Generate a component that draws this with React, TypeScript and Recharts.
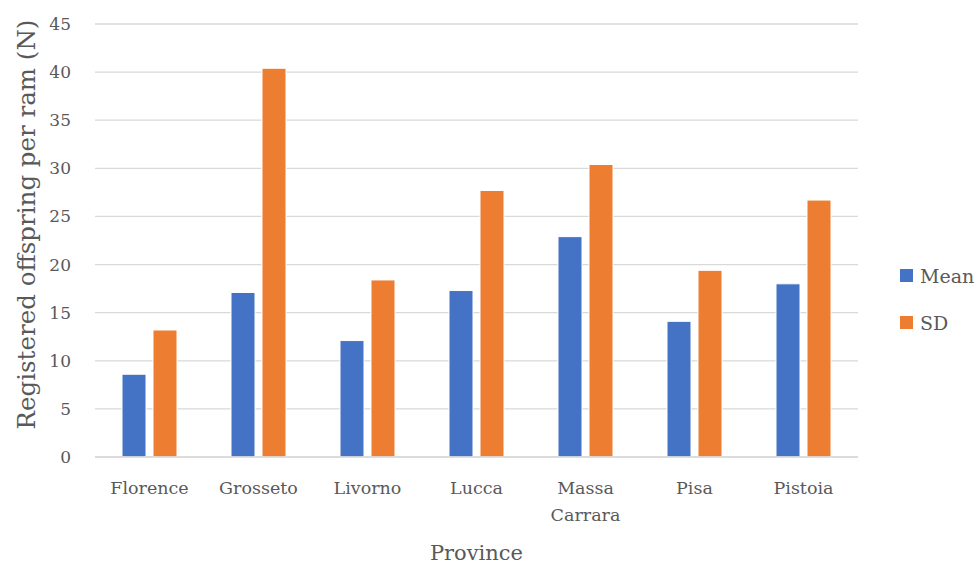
import React from 'react';
import { BarChart, Bar, XAxis, YAxis, CartesianGrid, Label } from 'recharts';

// Registered offspring per ram, by province
const provinces = ['Florence', 'Grosseto', 'Livorno', 'Lucca', 'Massa Carrara', 'Pisa', 'Pistoia'];
const meanValues = [8.6, 17.1, 12.1, 17.3, 22.9, 14.1, 18.0];
const sdValues = [13.2, 40.4, 18.4, 27.7, 30.4, 19.4, 26.7];
const yTicks = [0, 5, 10, 15, 20, 25, 30, 35, 40, 45];

const series = [
  { key: 'Mean', color: '#4472C4' },
  { key: 'SD', color: '#ED7D31' },
];

const data = provinces.map((province, i) => ({
  province,
  Mean: meanValues[i],
  SD: sdValues[i],
}));

const FONT = '"DejaVu Serif", serif';
const TEXT = '#595959';
const GRID = '#d9d9d9';

// multi-word province names go on separate lines
function ProvinceTick(props: any) {
  const { x, y, payload } = props;
  const lines = String(payload.value).split(' ');
  return (
    <text x={x} y={y} textAnchor="middle" fill={TEXT} fontFamily={FONT} fontSize={17.5}>
      {lines.map((line, i) => (
        <tspan key={line} x={x} dy={i === 0 ? 0 : 27}>
          {line}
        </tspan>
      ))}
    </text>
  );
}

function SideLegend() {
  return (
    <div style={{ position: 'absolute', left: 900, top: 252, fontFamily: FONT, color: TEXT, fontSize: 19 }}>
      {series.map((s) => (
        <div key={s.key} style={{ display: 'flex', alignItems: 'center', height: 47 }}>
          <span style={{ width: 13, height: 13, background: s.color, marginRight: 7, display: 'inline-block' }} />
          <span>{s.key}</span>
        </div>
      ))}
    </div>
  );
}

export default function App() {
  return (
    <div style={{ position: 'absolute', left: 0, top: 0, width: 980, height: 565, background: '#fff' }}>
      <BarChart
        width={980}
        height={565}
        data={data}
        margin={{ top: 24, right: 122, left: 0, bottom: 78 }}
        barSize={24}
        barGap={7}
      >
        <CartesianGrid vertical={false} stroke={GRID} strokeWidth={1.3} />
        <XAxis
          dataKey="province"
          interval={0}
          height={30}
          axisLine={{ stroke: GRID, strokeWidth: 1.3 }}
          tickLine={false}
          tickSize={0}
          tickMargin={37}
          tick={<ProvinceTick />}
        >
          <Label
            value="Province"
            position="bottom"
            offset={58}
            fill={TEXT}
            style={{ fontFamily: FONT, fontSize: 21 }}
          />
        </XAxis>
        <YAxis
          width={95}
          domain={[0, 45]}
          ticks={yTicks}
          axisLine={false}
          tickLine={false}
          tickSize={0}
          tickMargin={24}
          tick={{ fill: TEXT, fontFamily: FONT, fontSize: 17 }}
        >
          <Label
            value="Registered offspring per ram (N)"
            angle={-90}
            position="insideLeft"
            offset={26}
            dy={-16}
            fill={TEXT}
            style={{ fontFamily: FONT, fontSize: 24.5, textAnchor: 'middle' }}
          />
        </YAxis>
        {series.map((s) => (
          <Bar key={s.key} dataKey={s.key} fill={s.color} stroke="#fff" strokeWidth={1} isAnimationActive={false} />
        ))}
      </BarChart>
      <SideLegend />
    </div>
  );
}
